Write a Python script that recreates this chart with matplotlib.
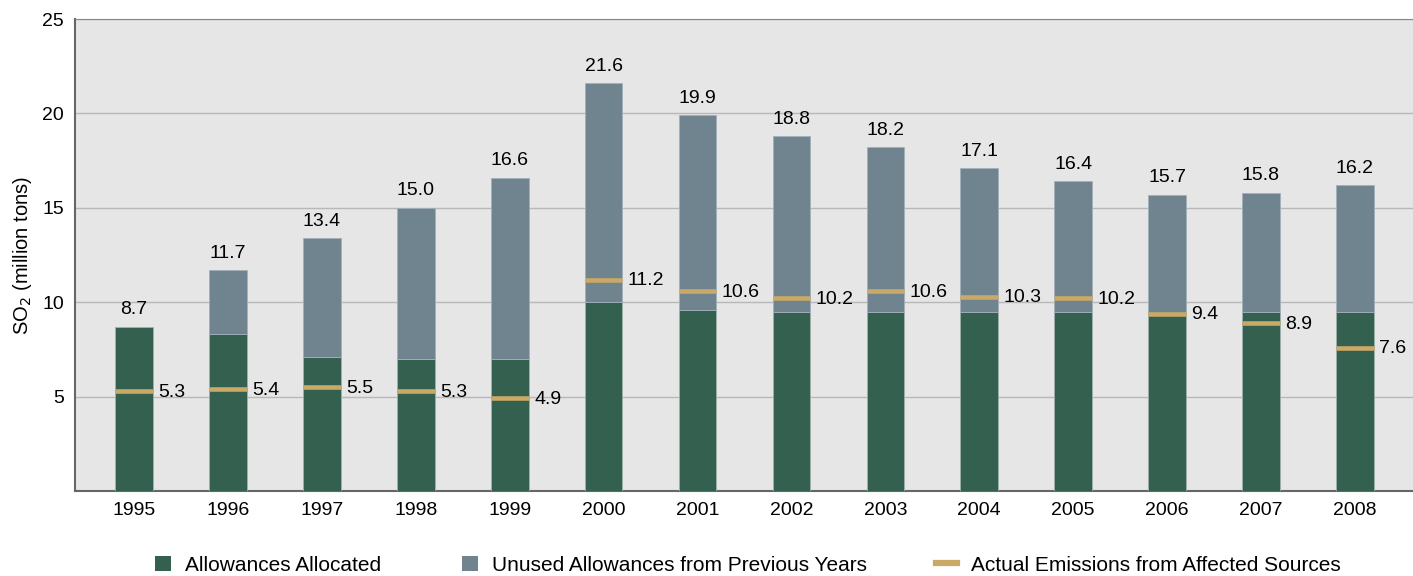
import matplotlib.pyplot as plt
from matplotlib.patches import Patch
from matplotlib.lines import Line2D

plt.rcParams['font.family'] = ['Liberation Sans', 'DejaVu Sans']

# data (million tons)
years = ['1995', '1996', '1997', '1998', '1999', '2000', '2001',
         '2002', '2003', '2004', '2005', '2006', '2007', '2008']
allocated = [8.7, 8.3, 7.1, 7.0, 7.0, 10.0, 9.6, 9.5, 9.5, 9.5, 9.5, 9.4, 9.5, 9.5]
totals = [8.7, 11.7, 13.4, 15.0, 16.6, 21.6, 19.9, 18.8, 18.2, 17.1, 16.4, 15.7, 15.8, 16.2]
emissions = [5.3, 5.4, 5.5, 5.3, 4.9, 11.2, 10.6, 10.2, 10.6, 10.3, 10.2, 9.4, 8.9, 7.6]
unused = [t - a for t, a in zip(totals, allocated)]

green = '#33604f'
slate = '#6f848f'
gold = '#c9a965'

fig = plt.figure(figsize=(14.13, 5.76), dpi=100)
ax = fig.add_axes([0.0531, 0.1476, 0.9469, 0.8194])
ax.set_facecolor('#e6e6e6')

x = list(range(len(years)))
w = 0.4
ax.bar(x, allocated, width=w, color=green, edgecolor='#9fb0ab', linewidth=0.6, zorder=3)
ax.bar(x, unused, width=w, bottom=allocated, color=slate, edgecolor='#a3b0b8', linewidth=0.6, zorder=3)
ax.hlines(emissions, [i - w / 2 for i in x], [i + w / 2 for i in x], colors=gold, linewidth=3.3, zorder=4)

for i in x:
    ax.annotate(f"{totals[i]:.1f}", (i, totals[i]), xytext=(0, 6), textcoords='offset points',
                ha='center', va='bottom', fontsize=14)
    ax.annotate(f"{emissions[i]:.1f}", (i + w / 2, emissions[i]), xytext=(4, -1), textcoords='offset points',
                ha='left', va='center', fontsize=14)

ax.set_xlim(-0.63, 13.62)
ax.set_ylim(0, 25)
ax.set_xticks(x)
ax.set_xticklabels(years)
ax.set_yticks([5, 10, 15, 20, 25])
ax.tick_params(axis='both', length=0, labelsize=14)
ax.tick_params(axis='x', pad=8)
ax.tick_params(axis='y', pad=8)
ax.grid(axis='y', color='#b8b8b8', linewidth=1.0, zorder=0)
ax.set_axisbelow(True)
ax.set_ylabel('SO$_2$ (million tons)', fontsize=14.5, labelpad=6)

for side in ['left', 'bottom']:
    ax.spines[side].set_color('#666666')
    ax.spines[side].set_linewidth(1.5)
ax.spines['top'].set_color('#888888')
ax.spines['right'].set_visible(False)

# legend: one entry per legend so each can sit where the reference puts it
handles = [Patch(facecolor=green, edgecolor='none'),
           Patch(facecolor=slate, edgecolor='none'),
           Line2D([0], [0], color=gold, linewidth=4.5)]
labels = ['Allowances Allocated', 'Unused Allowances from Previous Years',
          'Actual Emissions from Affected Sources']
lx = [155, 462, 936]
hl = [0.75, 0.75, 1.0]
for h, lab, px, L in zip(handles, labels, lx, hl):
    leg = fig.legend([h], [lab], loc='center left', bbox_to_anchor=(px / 1413, 0.019),
                     frameon=False, fontsize=15, handlelength=L, handleheight=0.75,
                     handletextpad=0.7, borderpad=0, borderaxespad=0)

fig.savefig('out.png', dpi=100)
